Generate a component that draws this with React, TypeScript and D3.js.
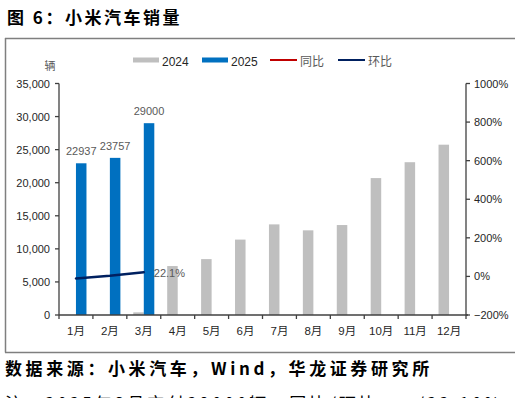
import React from "react";
import * as d3 from "d3";

const months = ["1月", "2月", "3月", "4月", "5月", "6月", "7月", "8月", "9月", "10月", "11月", "12月"];
const sales2024 = [0, 0, 400, 7400, 8450, 11400, 13700, 12800, 13600, 20700, 23100, 25750];
const sales2025: (number | null)[] = [22937, 23757, 29000, null, null, null, null, null, null, null, null, null];
const yoy2025: (number | null)[] = [null, null, null, null, null, null, null, null, null, null, null, null];
const mom2025: (number | null)[] = [-10.9, 3.6, 22.1, null, null, null, null, null, null, null, null, null];
const leftTicks = [0, 5000, 10000, 15000, 20000, 25000, 30000, 35000];
const rightTicks = [-200, 0, 200, 400, 600, 800, 1000];
const seriesNames = ["2024", "2025"];

const W = 521;
const H = 398;
const X0 = 59;
const X1 = 466;
const YT = 83.5;
const YB = 315;

const LAT = "'Liberation Sans', Arial, 'Noto Sans CJK SC', sans-serif";
const CJK = "'Noto Sans CJK SC', 'Liberation Sans', sans-serif";

export default function App() {
  const x = d3.scaleBand<string>().domain(months).range([X0, X1]).paddingInner(0.38).paddingOuter(0.19);
  const xs = d3.scaleBand<string>().domain(seriesNames).range([0, x.bandwidth()]).padding(0);
  const step = x.step();
  const yL = d3.scaleLinear().domain([0, 35000]).range([YB, YT]);
  const yR = d3.scaleLinear().domain([-200, 1000]).range([YB, YT]);
  const fmt = d3.format(",");
  const center = (m: string) => (x(m) as number) + x.bandwidth() / 2;

  const momPts = months
    .map((m, i) => ({ m, v: mom2025[i] }))
    .filter((d) => d.v !== null) as { m: string; v: number }[];
  const line = d3
    .line<{ m: string; v: number }>()
    .x((d) => center(d.m))
    .y((d) => yR(d.v));
  const yoyPts = months
    .map((m, i) => ({ m, v: yoy2025[i] }))
    .filter((d) => d.v !== null) as { m: string; v: number }[];
  const lastMom = momPts[momPts.length - 1];

  const axisColor = "#404040";
  const labelColor = "#262626";

  return (
    <svg
      width={W}
      height={H}
      style={{ position: "absolute", left: 0, top: 0, background: "#fff" }}
    >
      {/* title */}
      <text x={7} y={24} fontFamily={CJK} fontWeight="bold" fontSize={17} letterSpacing={2.5} fill="#000">
        图 6：小米汽车销量
      </text>

      {/* frame */}
      <line x1={5} x2={515} y1={38.5} y2={38.5} stroke="#7f7f7f" strokeWidth={1.5} />
      <line x1={5.5} x2={5.5} y1={38} y2={352.5} stroke="#7f7f7f" strokeWidth={1.5} />
      <line x1={5} x2={515} y1={352.5} y2={352.5} stroke="#7f7f7f" strokeWidth={1.5} />

      {/* legend */}
      <g fontFamily={LAT} fontSize={12} fill={labelColor}>
        <rect x={133} y={57.5} width={26} height={5} fill="#BFBFBF" />
        <text x={162} y={65.5}>2024</text>
        <rect x={202} y={57.5} width={26} height={5} fill="#0070C0" />
        <text x={231} y={65.5}>2025</text>
        <line x1={270} x2={297} y1={60} y2={60} stroke="#C00000" strokeWidth={2} />
        <text x={300} y={65.5} fontFamily={CJK} fill="#595959">同比</text>
        <line x1={338} x2={365} y1={60} y2={60} stroke="#002060" strokeWidth={2} />
        <text x={368} y={65.5} fontFamily={CJK} fill="#595959">环比</text>
      </g>

      {/* unit */}
      <text x={50} y={70} textAnchor="middle" fontFamily={CJK} fontSize={11} fill="#595959">
        辆
      </text>

      {/* bars */}
      {months.map((m, i) => (
        <g key={m}>
          {sales2024[i] > 0 && (
            <rect
              x={(x(m) as number) + (xs("2024") as number)}
              y={yL(sales2024[i])}
              width={xs.bandwidth()}
              height={YB - yL(sales2024[i])}
              fill="#BFBFBF"
            />
          )}
          {sales2025[i] !== null && (
            <rect
              x={(x(m) as number) + (xs("2025") as number)}
              y={yL(sales2025[i] as number)}
              width={xs.bandwidth()}
              height={YB - yL(sales2025[i] as number)}
              fill="#0070C0"
            />
          )}
          {sales2025[i] !== null && (
            <text
              x={(x(m) as number) + (xs("2025") as number) + xs.bandwidth() / 2}
              y={yL(sales2025[i] as number) - 8}
              textAnchor="middle"
              fontFamily={LAT}
              fontSize={11}
              fill="#595959"
            >
              {sales2025[i]}
            </text>
          )}
        </g>
      ))}

      {/* lines */}
      {yoyPts.length > 1 && (
        <path d={line(yoyPts) as string} fill="none" stroke="#C00000" strokeWidth={2.5} />
      )}
      <path d={line(momPts) as string} fill="none" stroke="#002060" strokeWidth={2.5} strokeLinecap="round" />
      {lastMom && (
        <text
          x={center(lastMom.m) + 10}
          y={yR(lastMom.v) + 5}
          fontFamily={LAT}
          fontSize={11}
          fill="#595959"
        >
          {lastMom.v.toFixed(1)}%
        </text>
      )}

      {/* left axis */}
      <line x1={X0} x2={X0} y1={YT} y2={YB} stroke={axisColor} strokeWidth={1.3} />
      {leftTicks.map((t) => (
        <g key={t}>
          <line x1={X0 - 4} x2={X0} y1={yL(t)} y2={yL(t)} stroke={axisColor} strokeWidth={1.3} />
          <text
            x={X0 - 9}
            y={yL(t) + 4}
            textAnchor="end"
            fontFamily={LAT}
            fontSize={11}
            fill={labelColor}
          >
            {fmt(t)}
          </text>
        </g>
      ))}

      {/* right axis */}
      <line x1={X1} x2={X1} y1={YT} y2={YB} stroke={axisColor} strokeWidth={1.3} />
      {rightTicks.map((t) => (
        <g key={t}>
          <line x1={X1} x2={X1 + 4} y1={yR(t)} y2={yR(t)} stroke={axisColor} strokeWidth={1.3} />
          <text x={X1 + 8} y={yR(t) + 4} fontFamily={LAT} fontSize={11} fill={labelColor}>
            {t < 0 ? "−" + Math.abs(t) : t}%
          </text>
        </g>
      ))}

      {/* x axis */}
      <line x1={X0} x2={X1 + 2} y1={YB} y2={YB} stroke={axisColor} strokeWidth={1.5} />
      {d3.range(months.length + 1).map((i) => (
        <line
          key={i}
          x1={X0 + i * step}
          x2={X0 + i * step}
          y1={YB}
          y2={YB + 4}
          stroke={axisColor}
          strokeWidth={1.3}
        />
      ))}
      {months.map((m) => (
        <text
          key={m}
          x={center(m)}
          y={335}
          textAnchor="middle"
          fontFamily={LAT}
          fontSize={11.5}
          fill={labelColor}
        >
          {m}
        </text>
      ))}

      {/* source */}
      <text x={5} y={375} fontFamily={CJK} fontWeight="bold" fontSize={17} letterSpacing={3.6} fill="#000">
        数据来源：小米汽车，Wind，华龙证券研究所
      </text>
      <text x={5} y={410} fontFamily={CJK} fontSize={17} letterSpacing={3} fill="#000">
        注：2025年3月交付29000辆，同比/环比：—/22.10%
      </text>
    </svg>
  );
}
